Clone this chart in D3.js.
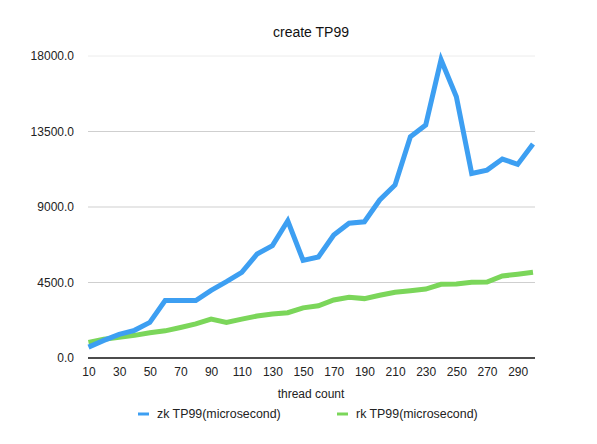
<!DOCTYPE html>
<html>
<head>
<meta charset="utf-8">
<script src="https://cdn.jsdelivr.net/npm/d3@7/dist/d3.min.js"></script>
<style>
html,body{margin:0;padding:0;background:#fff;}
svg{display:block;font-family:"Liberation Sans",Arial,Helvetica,sans-serif;}
</style>
</head>
<body>
<svg id="chart" width="597" height="444"></svg>
<script>
const threadCounts = [10,20,30,40,50,60,70,80,90,100,110,120,130,140,150,160,170,180,190,200,210,220,230,240,250,260,270,280,290,300];
const zkTP99 = [650,1050,1410,1650,2120,3420,3420,3420,4030,4550,5100,6200,6700,8180,5820,6020,7330,8030,8120,9420,10310,13190,13890,17780,15570,11000,11200,11860,11540,12750];
const rkTP99 = [920,1120,1230,1350,1510,1620,1820,2030,2320,2120,2320,2500,2620,2700,2990,3110,3460,3620,3540,3740,3920,4010,4110,4390,4410,4510,4530,4890,4990,5110];
const yTicks = [0,4500,9000,13500,18000];
const seriesNames = ["zk TP99(microsecond)","rk TP99(microsecond)"];
const seriesColors = ["#3d9ff2","#7bd65a"];
const titleText = "create TP99";
const xTitle = "thread count";

const svg = d3.select("#chart");
const x = d3.scalePoint().domain(threadCounts).range([88.5, 533]);
const y = d3.scaleLinear().domain([0,18000]).range([358, 56]);

// gridlines
svg.append("g").selectAll("line").data(yTicks.filter(d=>d>0)).join("line")
  .attr("x1",88).attr("x2",535)
  .attr("y1",d=>y(d)).attr("y2",d=>y(d))
  .attr("stroke",d=>d===18000?"#ececec":"#cfcfcf").attr("stroke-width",1);

// y axis labels
const yAxis = d3.axisLeft(y).tickValues(yTicks).tickFormat(d3.format(".1f")).tickSize(0).tickPadding(0);
const gy = svg.append("g").attr("transform","translate(74,0)").call(yAxis);
gy.select(".domain").remove();
gy.selectAll("text").attr("font-size",12).attr("fill","#222").attr("font-family","Liberation Sans, Arial, sans-serif");

// x axis
const xAxis = d3.axisBottom(x).tickValues(threadCounts.filter((d,i)=>i%2===0)).tickSize(0).tickPadding(9);
const gx = svg.append("g").attr("transform","translate(0,358)").call(xAxis);
gx.select(".domain").attr("d","M88,0H535").attr("stroke","#111").attr("stroke-width",1.5);
gx.selectAll("text").attr("font-size",12).attr("fill","#222").attr("font-family","Liberation Sans, Arial, sans-serif");

// lines (green first, blue on top)
const line = d3.line().x((d,i)=>x(threadCounts[i])).y(d=>y(d));
[[rkTP99,1],[zkTP99,0]].forEach(([s,k])=>{
  svg.append("path").datum(s).attr("d",line)
    .attr("fill","none").attr("stroke",seriesColors[k]).attr("stroke-width",5)
    .attr("stroke-linejoin","miter").attr("stroke-linecap","butt");
});

// title
svg.append("text").attr("x",311).attr("y",37).attr("text-anchor","middle")
  .attr("font-size",14).attr("fill","#111").text(titleText);
// x title
svg.append("text").attr("x",311).attr("y",398).attr("text-anchor","middle")
  .attr("font-size",12).attr("fill","#222").text(xTitle);

// legend
const legX = [138, 337];
seriesNames.forEach((n,k)=>{
  svg.append("line").attr("x1",legX[k]).attr("x2",legX[k]+11).attr("y1",414).attr("y2",414)
    .attr("stroke",seriesColors[k]).attr("stroke-width",3);
  svg.append("text").attr("x",legX[k]+19).attr("y",418).attr("font-size",12.4).attr("fill","#222").text(n);
});
</script>
</body>
</html>
